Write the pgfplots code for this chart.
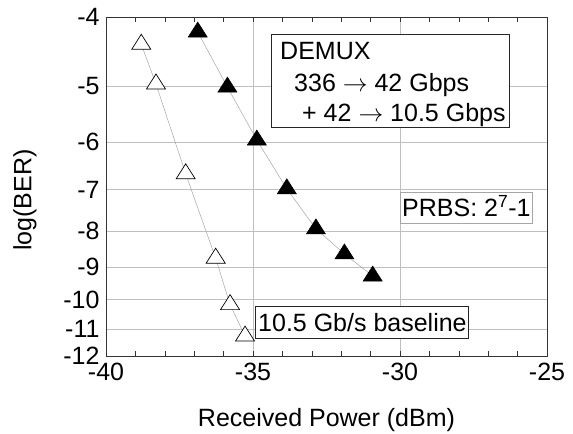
\documentclass[border=0pt]{standalone}
\usepackage{fontspec}
\setmainfont{Liberation Sans}
\usepackage{pgfplots}
\pgfplotsset{compat=1.18}

\begin{document}
\begin{tikzpicture}[x=1bp,y=1bp,font=\fontsize{25bp}{30bp}\selectfont]
\path[use as bounding box] (0,0) rectangle (573,434);
\begin{axis}[
  at={(106bp,78bp)}, anchor=south west,
  width=441bp, height=339bp, scale only axis,
  xmin=-40, xmax=-25, ymin=-12, ymax=-4,
  % BER scale: position goes with log(-log(BER))
  y coord trafo/.code={\pgfmathparse{-ln(-#1)}},
  y coord inv trafo/.code={\pgfmathparse{-exp(-#1)}},
  xtick={-40,-35,-30,-25}, xticklabels={-40,-35,-30,-25},
  ytick={-4,-5,-6,-7,-8,-9,-10,-11,-12},
  yticklabels={-4,-5,-6,-7,-8,-9,-10,-11,-12},
  minor x tick num=4,
  major tick length=5bp, minor tick length=5bp,
  ytick style={draw=none},
  grid=major,
  major grid style={gray!50, line width=0.6bp},
  axis line style={black!80, line width=0.8bp},
  tick style={black!80, line width=0.6bp},
  yticklabel style={xshift=-3bp},
  xticklabel style={yshift=-4bp},
  xlabel={Received Power (dBm)},
  ylabel={log(BER)},
  xlabel style={at={(axis description cs:0.5,-0.19)}, anchor=center},
  ylabel style={at={(axis description cs:-0.184,0.46)}, anchor=center},
]
% 10.5 Gb/s baseline (open)
\addplot[gray!70, line width=0.5bp, mark=triangle*,
  mark options={draw=black, fill=white, line width=0.7bp, mark size=10bp, xscale=1.1}]
  coordinates {(-38.80,-4.37) (-38.30,-4.97) (-37.29,-6.65) (-36.27,-8.74) (-35.78,-10.16) (-35.27,-11.25)};
% DEMUX (filled)
\addplot[gray!70, line width=0.5bp, mark=triangle*,
  mark options={draw=black, fill=black, mark size=10bp, xscale=1.1}]
  coordinates {(-36.88,-4.20) (-35.87,-5.02) (-34.87,-5.96) (-33.85,-6.98) (-32.86,-7.95) (-31.89,-8.62) (-30.93,-9.26)};
\end{axis}
% annotation boxes
\draw[black!85, line width=1bp, fill=white] (271,399) rectangle (509,306);
\node[anchor=base west, inner sep=0] at (280,374) {DEMUX};
\node[anchor=base west, inner sep=0] at (294,342) {336 $\rightarrow$ 42 Gbps};
\node[anchor=base west, inner sep=0] at (302,312) {+ 42 $\rightarrow$ 10.5 Gbps};
\draw[gray!70, line width=0.7bp, fill=white] (400,242) rectangle (532,211);
\node[anchor=base west, inner sep=0] at (402,217) {PRBS: 2\textsuperscript{7}-1};
\draw[black!85, line width=1bp, fill=white] (255,127) rectangle (468,95);
\node[anchor=base west, inner sep=0] at (258,102) {10.5 Gb/s baseline};
\end{tikzpicture}
\end{document}
